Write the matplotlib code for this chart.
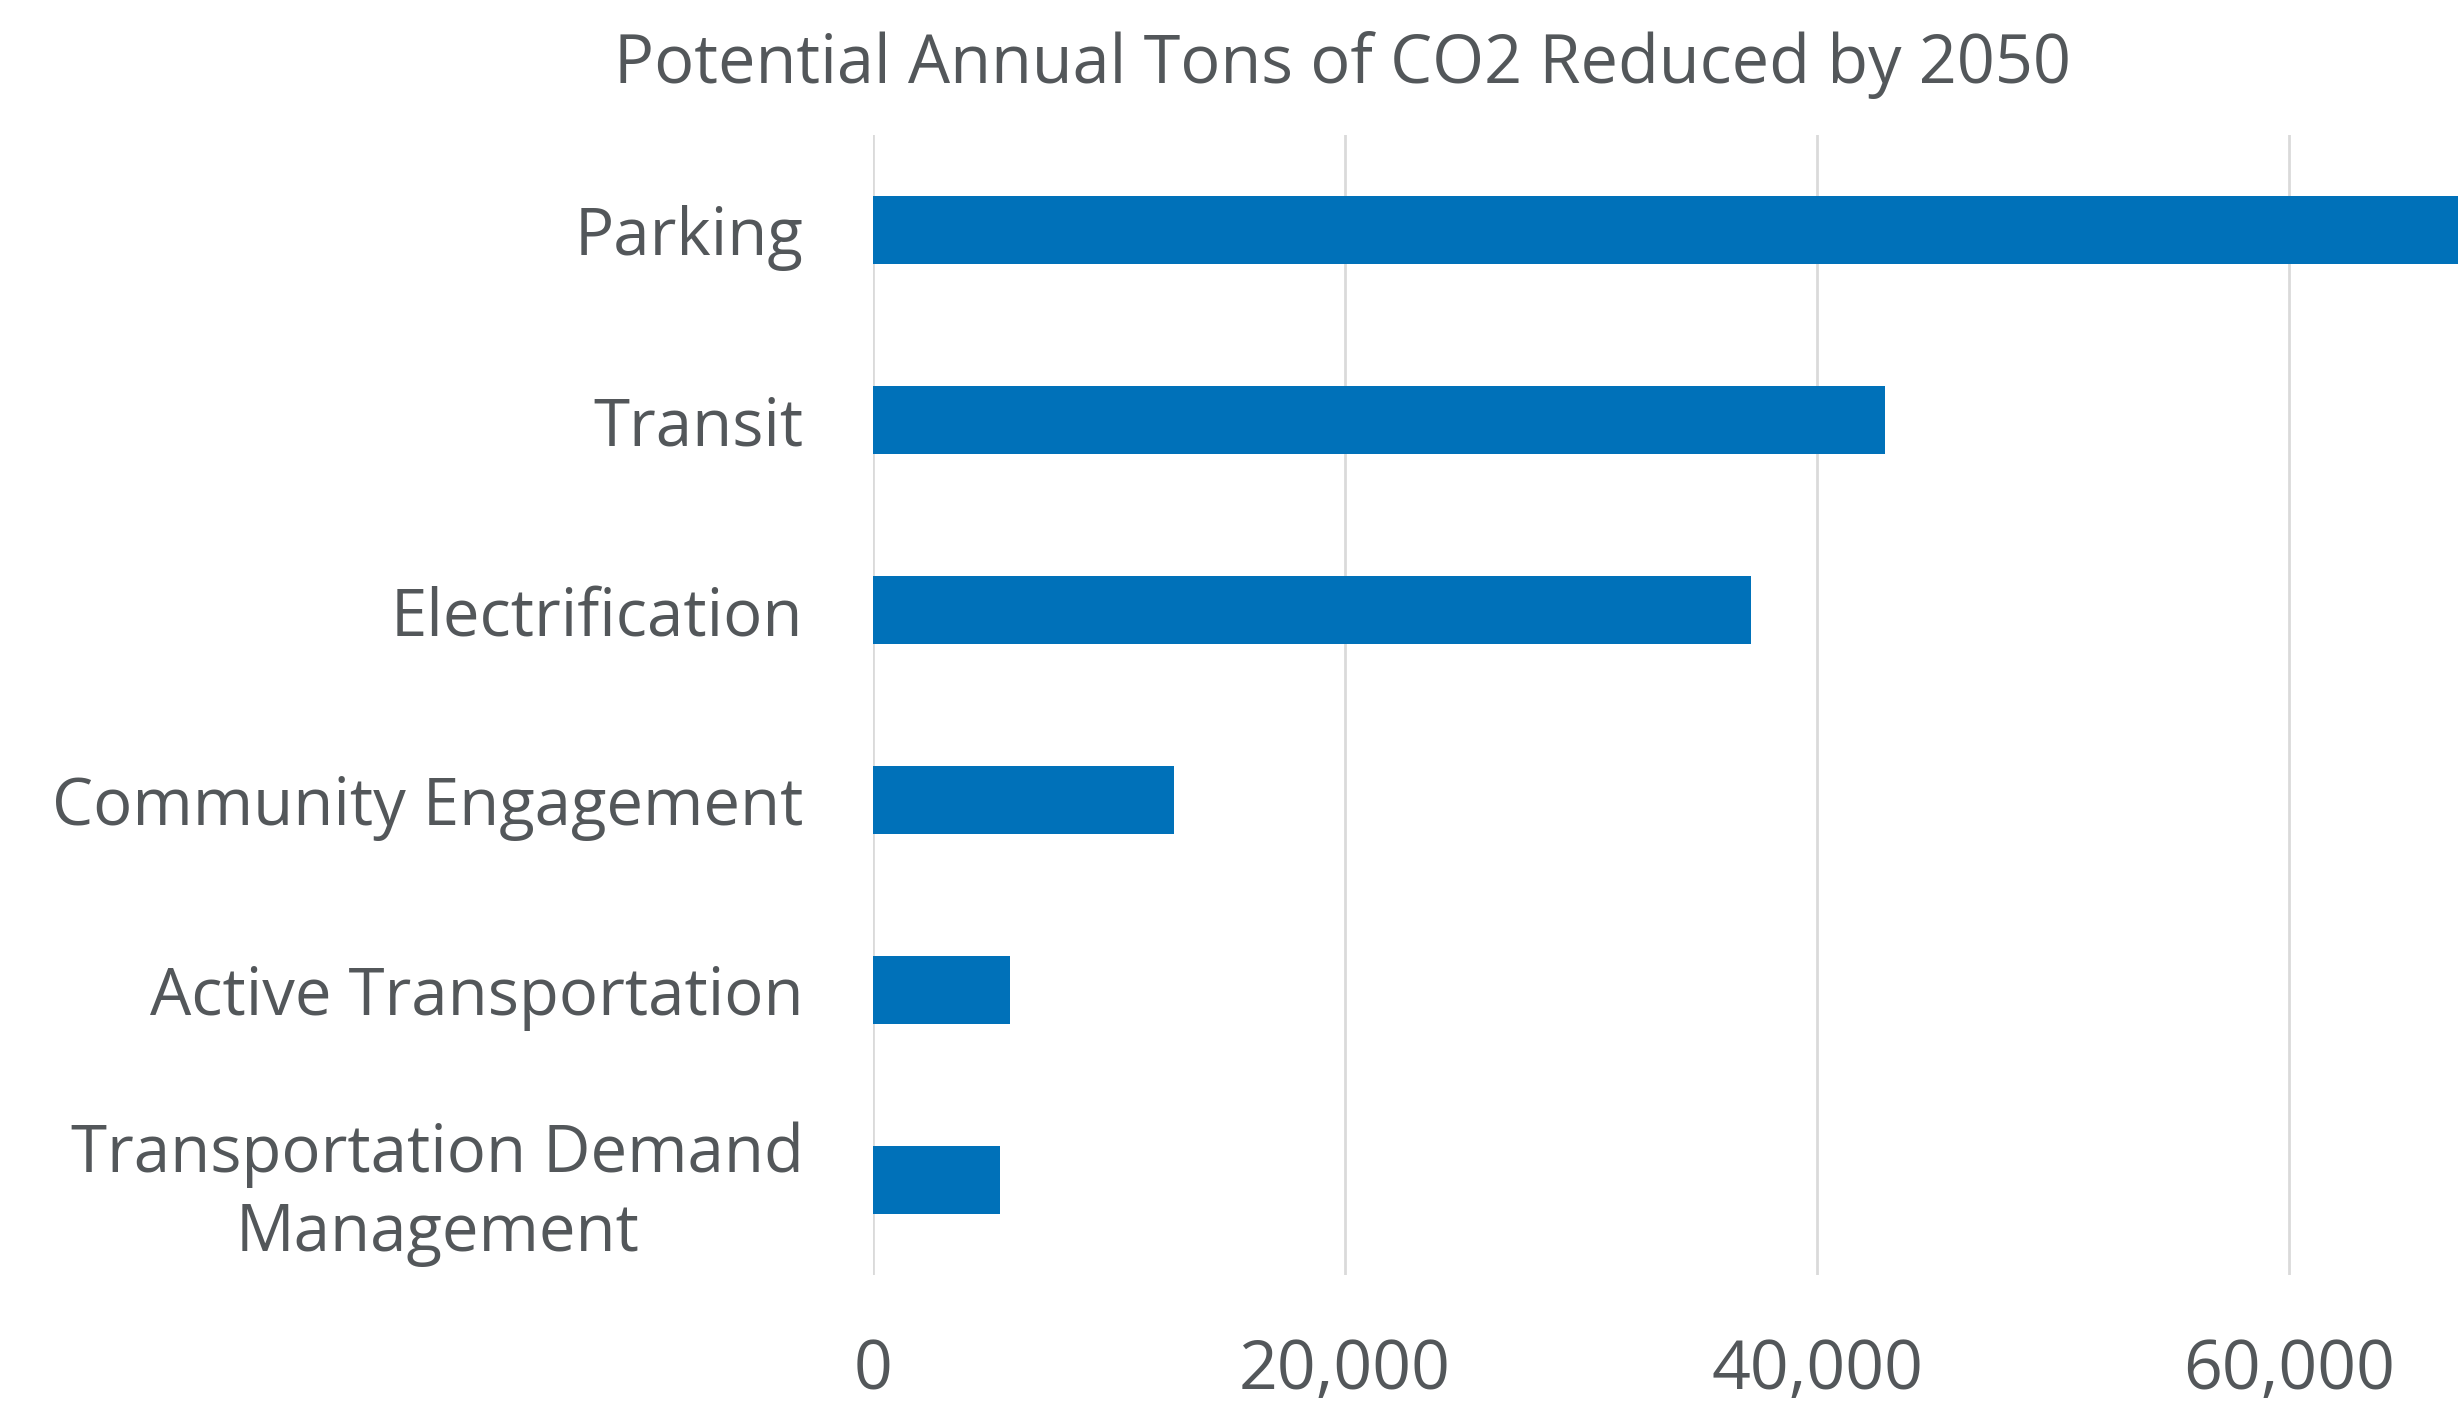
import matplotlib
matplotlib.use("Agg")
import matplotlib.pyplot as plt
from matplotlib.ticker import FuncFormatter

# data
categories = ["Parking", "Transit", "Electrification", "Community Engagement",
              "Active Transportation", "Transportation Demand\nManagement"]
tons = [68000, 42900, 37200, 12750, 5800, 5400]
xticks = [0, 20000, 40000, 60000]

bar_col = "#0071B9"
txt_col = "#53575A"
grid_col = "#DADADA"

plt.rcParams['font.family'] = ['Open Sans', 'DejaVu Sans']

fig = plt.figure(figsize=(24.58, 14.06), dpi=100)
ax = fig.add_axes([873/2458, 1 - 1275/1406, 1 - 873/2458, (1275 - 135)/1406])

ypos = list(range(len(categories)))
ax.barh(ypos, tons, height=0.36, color=bar_col, zorder=3)
ax.set_ylim(len(categories) - 0.5, -0.5)
ax.set_xlim(0, 67160)

ax.set_xticks(xticks)
ax.xaxis.set_major_formatter(FuncFormatter(lambda v, p: f"{int(v):,}"))
ax.grid(axis='x', color=grid_col, linewidth=2, zorder=0)
ax.set_yticks(ypos)
ax.set_yticklabels(categories, multialignment='center', linespacing=1.25)

ax.tick_params(axis='y', length=0, labelsize=47, colors=txt_col, pad=50)
ax.tick_params(axis='x', length=0, labelsize=49, colors=txt_col, pad=45)
for s in ax.spines.values():
    s.set_visible(False)

fig.text(1342/2458, 1 - 83/1406, "Potential Annual Tons of CO2 Reduced by 2050",
         ha='center', va='baseline', fontsize=48, color=txt_col)

fig.savefig("out.png", dpi=100, facecolor='white')
